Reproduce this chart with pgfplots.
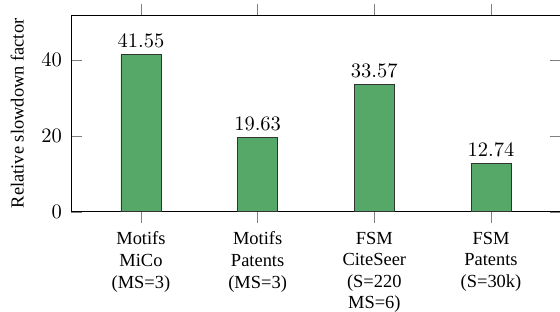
\documentclass[border=0pt]{standalone}
\usepackage{fontspec}
\setmainfont{Liberation Serif}
\usepackage{pgfplots}
\pgfplotsset{compat=1.18}
\definecolor{barg}{RGB}{85,168,104}
\begin{document}
\begin{tikzpicture}
\begin{axis}[
  at={(0pt,0pt)}, anchor=south west,
  width=239pt, height=96pt, scale only axis,
  xmin=-0.6, xmax=3.6, ymin=0, ymax=52,
  ybar, bar width=19.5pt,
  xtick=data,
  xticklabels={{Motifs\\MiCo\\(MS=3)},{Motifs\\Patents\\(MS=3)},{FSM\\CiteSeer\\(S=220\\MS=6)},{FSM\\Patents\\(S=30k)}},
  xticklabel style={align=center, font=\fontsize{9}{10.5}\selectfont, anchor=north, yshift=-1pt},
  ytick={0,20,40},
  yticklabel style={xshift=-0.9pt},
  ylabel={Relative slowdown factor},
  ylabel style={font=\fontsize{9}{11}\selectfont},
  ylabel shift=1.7pt,
  nodes near coords,
  nodes near coords style={font=\normalsize},
  tick style={gray},
  major tick length=5.3pt,
  xtick align=outside,
  ytick align=inside,
]
\addplot[fill=barg, draw=black!80] coordinates {(0,41.55) (1,19.63) (2,33.57) (3,12.74)};
\end{axis}
\pgfresetboundingbox
\useasboundingbox (-34.6pt,-48.8pt) rectangle (238.5pt,103.3pt);
\end{tikzpicture}
\end{document}
